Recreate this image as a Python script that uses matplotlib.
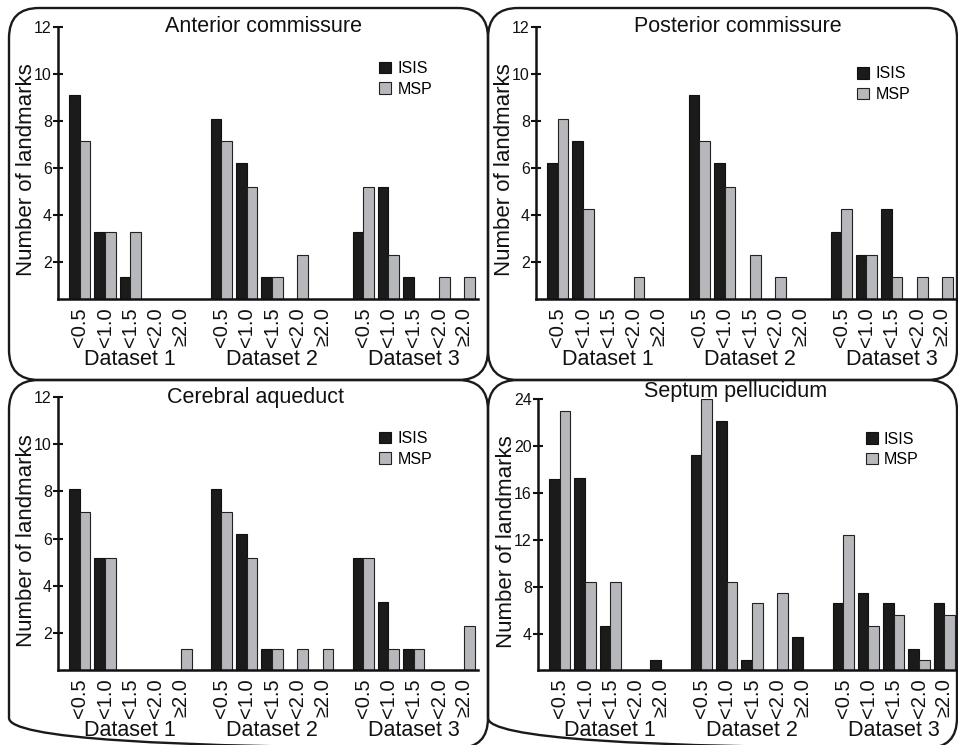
import matplotlib
matplotlib.use('Agg')
import matplotlib.pyplot as plt
import numpy as np
from matplotlib.patches import FancyBboxPatch, Patch
from matplotlib.transforms import blended_transform_factory

plt.rcParams['font.family'] = ['Liberation Sans', 'DejaVu Sans']

# ---------------- data ----------------
categories = ['<0.5', '<1.0', '<1.5', '<2.0', '≥2.0']
datasets = ['Dataset 1', 'Dataset 2', 'Dataset 3']
series_names = ['ISIS', 'MSP']
titles = ['Anterior commissure', 'Posterior commissure',
          'Cerebral aqueduct', 'Septum pellucidum']
ylabel = 'Number of landmarks'

# values listed Dataset 1 (5 bins), Dataset 2 (5 bins), Dataset 3 (5 bins)
ac_isis = [9.1, 3.3, 1.35, 0, 0,   8.1, 6.2, 1.35, 0, 0,   3.3, 5.2, 1.35, 0, 0]
ac_msp  = [7.15, 3.3, 3.3, 0, 0,   7.15, 5.2, 1.35, 2.3, 0,   5.2, 2.3, 0, 1.35, 1.35]

pc_isis = [6.2, 7.15, 0, 0, 0,   9.1, 6.2, 0, 0, 0,   3.3, 2.3, 4.25, 0, 0]
pc_msp  = [8.1, 4.25, 0, 1.35, 0,   7.15, 5.2, 2.3, 1.35, 0,   4.25, 2.3, 1.35, 1.35, 1.35]

ca_isis = [8.1, 5.2, 0, 0, 0,   8.1, 6.2, 1.35, 0, 0,   5.2, 3.3, 1.35, 0, 0]
ca_msp  = [7.15, 5.2, 0, 0, 1.35,   7.15, 5.2, 1.35, 1.35, 1.35,   5.2, 1.35, 1.35, 0, 2.3]

sp_isis = [17.2, 17.3, 4.65, 0, 1.8,   19.2, 22.1, 1.8, 0, 3.7,   6.6, 7.5, 6.6, 2.7, 6.6]
sp_msp  = [23.0, 8.45, 8.45, 0, 0,   24.0, 8.45, 6.6, 7.5, 0,   12.4, 4.65, 5.6, 1.8, 5.6]

y_ticks_small = [2, 4, 6, 8, 10, 12]
y_ticks_big = [4, 8, 12, 16, 20, 24]

# ---------------- layout ----------------
W, H = 958, 745
BLACK = '#1b1b1b'
GRAY = '#b7b8bb'

fig = plt.figure(figsize=(W / 100, H / 100), dpi=100)
bg = fig.add_axes([0, 0, 1, 1])
bg.set_xlim(0, W)
bg.set_ylim(H, 0)
bg.axis('off')
boxes = [(9, 8, 488, 380), (488, 8, 957, 380), (9, 380, 488, 748), (488, 380, 957, 748)]
for x0, y0, x1, y1 in boxes:
    bg.add_patch(FancyBboxPatch((x0, y0), x1 - x0, y1 - y0,
                                boxstyle='round,pad=0,rounding_size=30',
                                fc='none', ec='#1a1a1a', lw=1.7))


def px_rect(l, t, r, b):
    return [l / W, 1 - b / H, (r - l) / W, (b - t) / H]


panels = [
    dict(rect=(58, 27, 478, 299), ylim=(0.43, 12), ticks=y_ticks_small,
         isis=ac_isis, msp=ac_msp, title=titles[0], ty=0.982, tx=0.49,
         leg=(0.765, 0.875)),
    dict(rect=(536, 27, 956, 299), ylim=(0.43, 12), ticks=y_ticks_small,
         isis=pc_isis, msp=pc_msp, title=titles[1], ty=0.982, tx=0.48,
         leg=(0.765, 0.855)),
    dict(rect=(58, 397, 478, 670), ylim=(0.44, 12), ticks=y_ticks_small,
         isis=ca_isis, msp=ca_msp, title=titles[2], ty=0.978, tx=0.47,
         leg=(0.765, 0.875)),
    dict(rect=(538, 399, 958, 670), ylim=(0.93, 24), ticks=y_ticks_big,
         isis=sp_isis, msp=sp_msp, title=titles[3], ty=1.007, tx=0.47,
         leg=(0.78, 0.88)),
]

n_cat = len(categories)
group_step = 5.6
bw = 0.42
xpos = np.array([d * group_step + c for d in range(len(datasets)) for c in range(n_cat)])
xlabels = [categories[c] for d in range(len(datasets)) for c in range(n_cat)]

for p in panels:
    ax = fig.add_axes(px_rect(*p['rect']))
    ax.patch.set_alpha(0)
    ax.bar(xpos - bw / 2, p['isis'], width=bw, color=BLACK, edgecolor='#111111', lw=0.8)
    ax.bar(xpos + bw / 2, p['msp'], width=bw, color=GRAY, edgecolor='#222222', lw=0.8)
    ax.set_xlim(-0.86, 15.74)
    ax.set_ylim(*p['ylim'])
    for s in ['top', 'right']:
        ax.spines[s].set_visible(False)
    for s in ['left', 'bottom']:
        ax.spines[s].set_linewidth(1.8)
        ax.spines[s].set_color('#111111')
    ax.set_yticks(p['ticks'])
    ax.tick_params(axis='y', direction='inout', length=7, width=1.5,
                   labelsize=11.5, pad=1, colors='#111111')
    ax.set_xticks(xpos)
    ax.set_xticklabels(xlabels, rotation=90, fontsize=14.5)
    ax.tick_params(axis='x', length=0, pad=6, colors='#111111')
    tr = blended_transform_factory(ax.transData, ax.transAxes)
    for d, name in enumerate(datasets):
        ax.text(d * group_step + 2, -0.222, name, transform=tr, ha='center',
                va='center', fontsize=15.5, color='#111111')
    ax.text(p['tx'], p['ty'], p['title'], transform=ax.transAxes, ha='center',
            va='baseline', fontsize=15.5, color='#111111')
    ax.text(-0.074, 0.474, ylabel, transform=ax.transAxes, rotation=90,
            ha='center', va='center', fontsize=16, color='#111111')
    handles = [Patch(facecolor=BLACK, edgecolor='#111111', lw=0.8),
               Patch(facecolor=GRAY, edgecolor='#222222', lw=0.8)]
    ax.legend(handles, series_names, loc='upper left', bbox_to_anchor=p['leg'],
              frameon=False, fontsize=11.5, handlelength=0.75, handleheight=0.75,
              handletextpad=0.4, labelspacing=0.35, borderpad=0, borderaxespad=0)

fig.savefig('out.png', dpi=100)
